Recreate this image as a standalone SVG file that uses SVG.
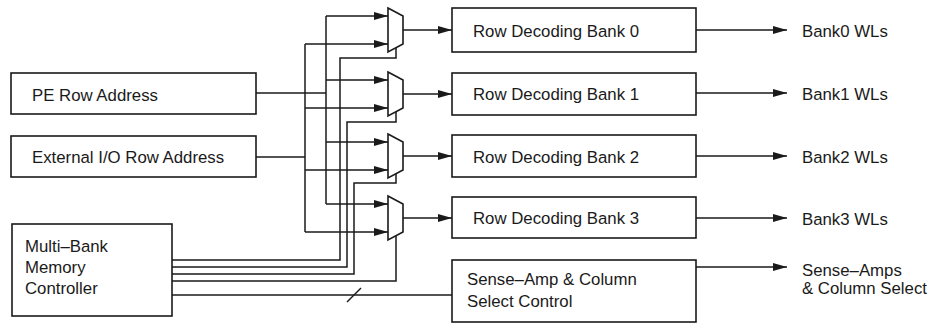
<svg xmlns="http://www.w3.org/2000/svg" width="929" height="325" viewBox="0 0 929 325">
  <style>
    .box { fill: #fff; stroke: #1a1a1a; stroke-width: 1.6; }
    .mux { fill: #fff; stroke: #1a1a1a; stroke-width: 1.6; stroke-linejoin: miter; }
    .wire { fill: none; stroke: #1a1a1a; stroke-width: 1.5; }
    .arrow { fill: none; stroke: #1a1a1a; stroke-width: 1.5; marker-end: url(#head); }
    text { font-family: "Liberation Sans", Arial, Helvetica, sans-serif; font-size: 16.8px; fill: #1a1a1a; }
  </style>
  <defs>
    <marker id="head" markerUnits="userSpaceOnUse" markerWidth="15" markerHeight="9" refX="14" refY="4.5" orient="auto">
      <path d="M0,0.5 L14,4.5 L0,8.5 Z" fill="#1a1a1a"/>
    </marker>
  </defs>
  <rect width="929" height="325" fill="#fff"/>

  <!-- connectors -->
  <g id="connectors">
    <!-- address sources onto the two buses -->
    <path class="wire" d="M256,93 H326"/>
    <path class="wire" d="M256,157 H305"/>
    <!-- PE bus (x=326) and External bus (x=305) -->
    <path class="wire" d="M326,16 V204"/>
    <path class="wire" d="M305,44 V232"/>
    <!-- mux data inputs -->
    <path class="arrow" d="M326,16 H388"/>
    <path class="arrow" d="M305,44 H388"/>
    <path class="arrow" d="M326,80 H388"/>
    <path class="arrow" d="M305,108 H388"/>
    <path class="arrow" d="M326,142 H388"/>
    <path class="arrow" d="M305,170 H388"/>
    <path class="arrow" d="M326,204 H388"/>
    <path class="arrow" d="M305,232 H388"/>
    <!-- mux select lines from the controller -->
    <path class="wire" d="M396,48 V58 H340 V260 H172"/>
    <path class="wire" d="M396,112 V122 H347 V267 H172"/>
    <path class="wire" d="M396,174 V183 H354 V274 H172"/>
    <path class="wire" d="M396,236 V281 H172"/>
    <!-- controller to sense-amp control (bus) -->
    <path class="wire" d="M172,295 H452"/>
    <path class="wire" d="M347,302 L361,288"/>
    <!-- mux outputs to decoders -->
    <path class="arrow" d="M403,30 H452"/>
    <path class="arrow" d="M403,94 H452"/>
    <path class="arrow" d="M403,156 H452"/>
    <path class="arrow" d="M403,218 H452"/>
    <!-- decoder outputs -->
    <path class="arrow" d="M696,30 H787"/>
    <path class="arrow" d="M696,93 H787"/>
    <path class="arrow" d="M696,156 H787"/>
    <path class="arrow" d="M696,218 H787"/>
    <path class="arrow" d="M696,267 H787"/>
  </g>

  <!-- sources -->
  <g id="pe-row-address">
    <rect class="box" x="11" y="73" width="245" height="41"/>
    <text x="32" y="101">PE Row Address</text>
  </g>
  <g id="external-row-address">
    <rect class="box" x="11" y="136" width="245" height="41"/>
    <text x="32" y="163">External I/O Row Address</text>
  </g>
  <g id="controller">
    <rect class="box" x="12" y="224" width="160" height="92"/>
    <text x="25" y="252">Multi–Bank</text>
    <text x="25" y="273">Memory</text>
    <text x="25" y="294">Controller</text>
  </g>

  <!-- multiplexers -->
  <g id="mux0"><path class="mux" d="M388,8 L403,16 V44 L388,52 Z"/></g>
  <g id="mux1"><path class="mux" d="M388,72 L403,80 V108 L388,116 Z"/></g>
  <g id="mux2"><path class="mux" d="M388,134 L403,142 V170 L388,178 Z"/></g>
  <g id="mux3"><path class="mux" d="M388,196 L403,204 V232 L388,240 Z"/></g>

  <!-- row decoders -->
  <g id="decoder0">
    <rect class="box" x="452" y="8" width="244" height="44"/>
    <text x="473" y="37">Row Decoding Bank 0</text>
  </g>
  <g id="decoder1">
    <rect class="box" x="452" y="73" width="244" height="42"/>
    <text x="473" y="100">Row Decoding Bank 1</text>
  </g>
  <g id="decoder2">
    <rect class="box" x="452" y="135" width="244" height="42"/>
    <text x="473" y="163">Row Decoding Bank 2</text>
  </g>
  <g id="decoder3">
    <rect class="box" x="452" y="197" width="244" height="41"/>
    <text x="473" y="224">Row Decoding Bank 3</text>
  </g>
  <g id="sense-amp-control">
    <rect class="box" x="452" y="260" width="244" height="62"/>
    <text x="467" y="285">Sense–Amp &amp; Column</text>
    <text x="467" y="307">Select Control</text>
  </g>

  <!-- outputs -->
  <g id="out-bank0"><text x="802" y="37">Bank0 WLs</text></g>
  <g id="out-bank1"><text x="802" y="100">Bank1 WLs</text></g>
  <g id="out-bank2"><text x="802" y="163">Bank2 WLs</text></g>
  <g id="out-bank3"><text x="802" y="225">Bank3 WLs</text></g>
  <g id="out-sense">
    <text x="802" y="276">Sense–Amps</text>
    <text x="802" y="294">&amp; Column Select</text>
  </g>
</svg>
